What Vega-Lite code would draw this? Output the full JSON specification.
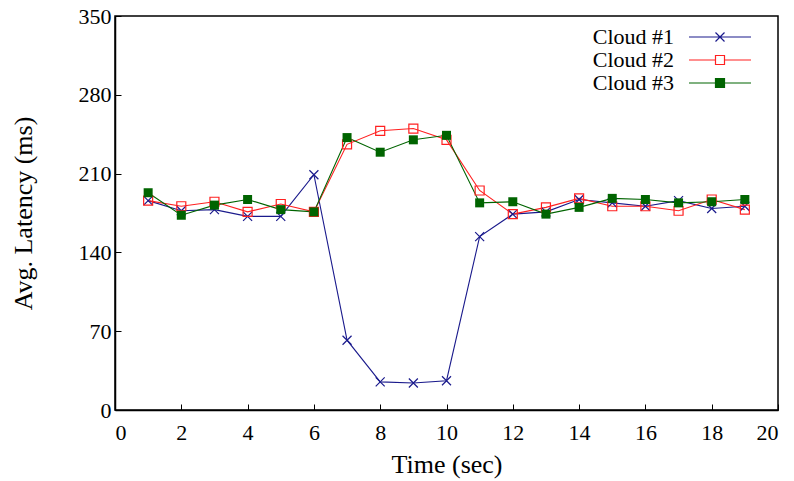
{
  "$schema": "https://vega.github.io/schema/vega-lite/v6.json",
  "width": 663,
  "height": 394,
  "autosize": {"type": "none"},
  "padding": {"left": 115, "top": 16, "right": 16, "bottom": 71},
  "background": "white",
  "config": {
    "view": {"stroke": "black", "strokeWidth": 1.5},
    "font": "Liberation Serif",
    "axis": {
      "grid": false,
      "domainColor": "black",
      "domainWidth": 1.5,
      "tickColor": "black",
      "tickWidth": 1,
      "tickSize": -6,
      "labelFont": "Liberation Serif",
      "labelFontSize": 22,
      "labelColor": "black",
      "titleFont": "Liberation Serif",
      "titleFontSize": 26,
      "titleFontWeight": "normal",
      "titleColor": "black"
    }
  },
  "data": {
    "values": [
      {"t": 1, "series": "Cloud #1", "v": 186}, {"t": 2, "series": "Cloud #1", "v": 177}, {"t": 3, "series": "Cloud #1", "v": 178},
      {"t": 4, "series": "Cloud #1", "v": 172}, {"t": 5, "series": "Cloud #1", "v": 172}, {"t": 6, "series": "Cloud #1", "v": 209},
      {"t": 7, "series": "Cloud #1", "v": 62}, {"t": 8, "series": "Cloud #1", "v": 25}, {"t": 9, "series": "Cloud #1", "v": 24},
      {"t": 10, "series": "Cloud #1", "v": 26}, {"t": 11, "series": "Cloud #1", "v": 154}, {"t": 12, "series": "Cloud #1", "v": 174},
      {"t": 13, "series": "Cloud #1", "v": 176}, {"t": 14, "series": "Cloud #1", "v": 187}, {"t": 15, "series": "Cloud #1", "v": 184},
      {"t": 16, "series": "Cloud #1", "v": 181}, {"t": 17, "series": "Cloud #1", "v": 186}, {"t": 18, "series": "Cloud #1", "v": 179},
      {"t": 19, "series": "Cloud #1", "v": 181},
      {"t": 1, "series": "Cloud #2", "v": 186}, {"t": 2, "series": "Cloud #2", "v": 181}, {"t": 3, "series": "Cloud #2", "v": 185},
      {"t": 4, "series": "Cloud #2", "v": 176}, {"t": 5, "series": "Cloud #2", "v": 183}, {"t": 6, "series": "Cloud #2", "v": 176},
      {"t": 7, "series": "Cloud #2", "v": 236}, {"t": 8, "series": "Cloud #2", "v": 248}, {"t": 9, "series": "Cloud #2", "v": 250},
      {"t": 10, "series": "Cloud #2", "v": 240}, {"t": 11, "series": "Cloud #2", "v": 195}, {"t": 12, "series": "Cloud #2", "v": 174},
      {"t": 13, "series": "Cloud #2", "v": 180}, {"t": 14, "series": "Cloud #2", "v": 188}, {"t": 15, "series": "Cloud #2", "v": 181},
      {"t": 16, "series": "Cloud #2", "v": 181}, {"t": 17, "series": "Cloud #2", "v": 177}, {"t": 18, "series": "Cloud #2", "v": 187},
      {"t": 19, "series": "Cloud #2", "v": 178},
      {"t": 1, "series": "Cloud #3", "v": 193}, {"t": 2, "series": "Cloud #3", "v": 173}, {"t": 3, "series": "Cloud #3", "v": 182},
      {"t": 4, "series": "Cloud #3", "v": 187}, {"t": 5, "series": "Cloud #3", "v": 178}, {"t": 6, "series": "Cloud #3", "v": 176},
      {"t": 7, "series": "Cloud #3", "v": 242}, {"t": 8, "series": "Cloud #3", "v": 229}, {"t": 9, "series": "Cloud #3", "v": 240},
      {"t": 10, "series": "Cloud #3", "v": 244}, {"t": 11, "series": "Cloud #3", "v": 184}, {"t": 12, "series": "Cloud #3", "v": 185},
      {"t": 13, "series": "Cloud #3", "v": 174}, {"t": 14, "series": "Cloud #3", "v": 180}, {"t": 15, "series": "Cloud #3", "v": 188},
      {"t": 16, "series": "Cloud #3", "v": 187}, {"t": 17, "series": "Cloud #3", "v": 184}, {"t": 18, "series": "Cloud #3", "v": 185},
      {"t": 19, "series": "Cloud #3", "v": 187}
    ]
  },
  "encoding": {
    "x": {
      "field": "t", "type": "quantitative", "title": "Time (sec)",
      "scale": {"domain": [0, 20], "nice": false, "zero": false},
      "axis": {"values": [0, 2, 4, 6, 8, 10, 12, 14, 16, 18, 20], "labelPadding": 18, "titlePadding": 8}
    },
    "y": {
      "field": "v", "type": "quantitative", "title": "Avg. Latency (ms)",
      "scale": {"domain": [0, 350], "nice": false},
      "axis": {"values": [0, 70, 140, 210, 280, 350], "labelPadding": 10, "titlePadding": 42}
    }
  },
  "layer": [
    {
      "mark": {"type": "point", "filled": false, "opacity": 0, "strokeWidth": 1.2},
      "encoding": {
        "color": {
          "field": "series", "type": "nominal",
          "scale": {"domain": ["Cloud #1", "Cloud #2", "Cloud #3"], "range": ["#1a1a8c", "#ff2020", "#006400"]},
          "legend": {
            "title": null,
            "orient": "none",
            "legendX": 594,
            "legendY": 10,
            "padding": 0,
            "labelFont": "Liberation Serif",
            "labelFontSize": 22,
            "labelColor": "black",
            "labelAlign": "right",
            "labelOffset": -57,
            "rowPadding": 1,
            "symbolSize": 100,
            "symbolOpacity": 1,
            "symbolStrokeWidth": 1.2
          }
        },
        "shape": {
          "field": "series", "type": "nominal",
          "scale": {"domain": ["Cloud #1", "Cloud #2", "Cloud #3"], "range": ["M-6.2,0H6.2M-0.9,-0.9L0.9,0.9M-0.9,0.9L0.9,-0.9", "M-6.2,0H-0.9M0.9,0H6.2M-0.9,-0.9H0.9V0.9H-0.9Z", "M-6.2,0H-0.9M0.9,0H6.2M-0.9,-0.9H0.9V0.9H-0.9Z"]}
        },
        "fill": {
          "field": "series", "type": "nominal", "legend": null,
          "scale": {"domain": ["Cloud #1", "Cloud #2", "Cloud #3"], "range": ["transparent", "transparent", "#006400"]}
        }
      }
    },
    {
      "mark": {"type": "line", "strokeWidth": 1.1},
      "encoding": {"color": {"field": "series", "type": "nominal"}}
    },
    {
      "transform": [{"filter": "datum.series === 'Cloud #1'"}],
      "mark": {"type": "point", "filled": false, "color": "#1a1a8c", "strokeWidth": 1.2, "opacity": 1, "size": 81, "shape": "M-1,-1L1,1M-1,1L1,-1"}
    },
    {
      "transform": [{"filter": "datum.series === 'Cloud #2'"}],
      "mark": {"type": "point", "filled": false, "color": "#ff2020", "strokeWidth": 1.2, "opacity": 1, "size": 81, "shape": "square"}
    },
    {
      "transform": [{"filter": "datum.series === 'Cloud #3'"}],
      "mark": {"type": "point", "filled": true, "color": "#006400", "opacity": 1, "size": 81, "shape": "square"}
    }
  ]
}
